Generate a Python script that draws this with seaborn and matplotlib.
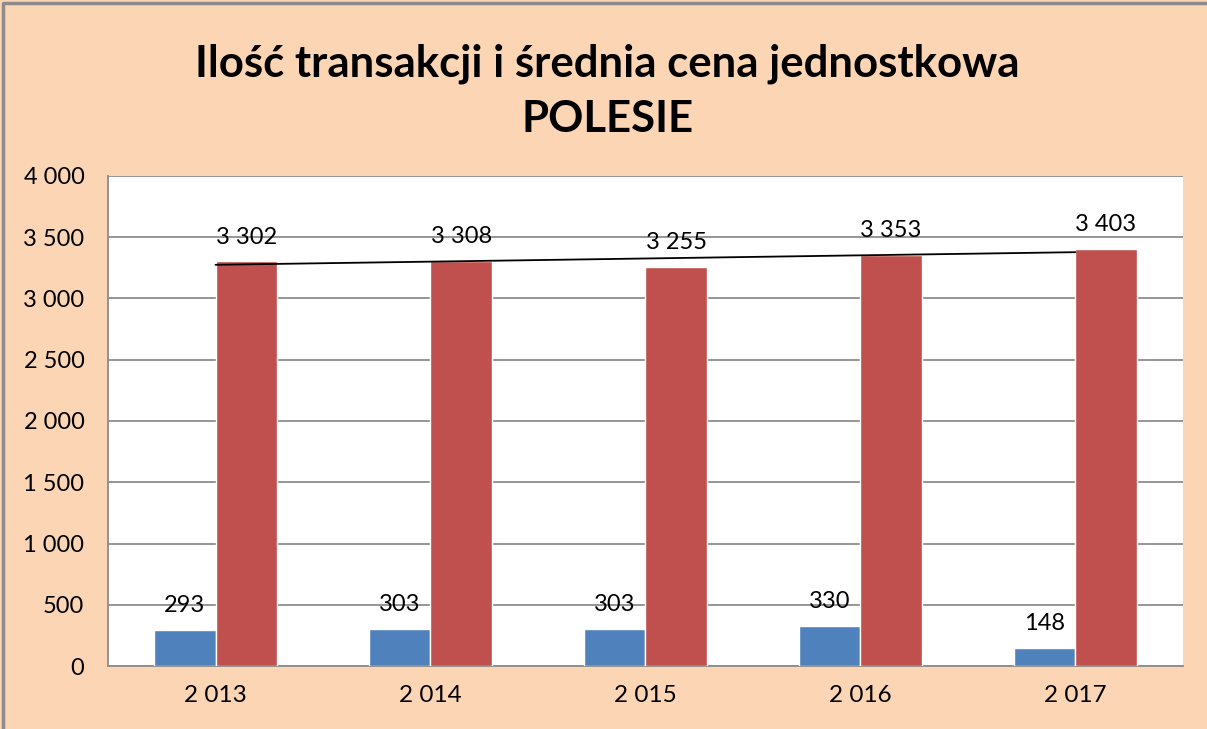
import matplotlib
matplotlib.use("Agg")
import matplotlib.pyplot as plt
import seaborn as sns
import pandas as pd
from matplotlib.lines import Line2D

# dane
lata = [2013, 2014, 2015, 2016, 2017]
ilosc_transakcji = [293, 303, 303, 330, 148]
srednia_cena = [3302, 3308, 3255, 3353, 3403]
# linia trendu (odczytana: początek i koniec)
trend_lata = [2013, 2017]
trend_cena = [3275, 3378]

def fmt(v):
    return f"{v:,}".replace(",", " ")

etykiety_lat = [fmt(r) for r in lata]

df = pd.DataFrame({
    "rok": etykiety_lat * 2,
    "wartosc": ilosc_transakcji + srednia_cena,
    "seria": ["ilosc"] * len(lata) + ["cena"] * len(lata),
})

sns.set_style("white")
plt.rcParams["font.family"] = ["Lato", "DejaVu Sans"]
plt.rcParams["text.color"] = "black"
plt.rcParams["xtick.labelcolor"] = "black"
plt.rcParams["ytick.labelcolor"] = "black"

tlo = "#FCD5B5"
fig = plt.figure(figsize=(12.07, 7.29), dpi=100, facecolor=tlo)
# ramka (góra i lewa strona)
fig.lines.append(Line2D([0.0025, 0.0025, 1.0], [0.0, 0.996, 0.996], transform=fig.transFigure,
                        color="#8C8C8C", linewidth=2.5))
ax = fig.add_axes([0.0895, 0.0864, 0.8905, 0.6722])
ax.set_facecolor("white")

sns.barplot(data=df, x="rok", y="wartosc", hue="seria", palette=["#4F81BD", "#C0504D"],
            width=0.57, saturation=1, legend=False, ax=ax, zorder=3)

# linia trendu
pozycje = [lata.index(r) for r in trend_lata]
ax.plot(pozycje, trend_cena, color="black", linewidth=1.3, zorder=4)

# etykiety wartości
for kontener in ax.containers:
    ax.bar_label(kontener, labels=[fmt(int(p.get_height())) for p in kontener],
                 padding=10, fontsize=17, color="black", zorder=5)

ax.set_ylim(0, 4000)
ax.set_xlim(-0.5, len(lata) - 0.5)
ax.set_yticks(range(0, 4001, 500))
ax.set_yticklabels([fmt(v) for v in range(0, 4001, 500)], fontsize=17)
ax.set_xticks(range(len(lata)))
ax.set_xticklabels(etykiety_lat, fontsize=17.5)
ax.set_xticks([i - 0.5 for i in range(len(lata) + 1)], minor=True)
ax.tick_params(axis="x", which="major", length=0, pad=14)
ax.tick_params(axis="x", which="minor", length=8, color="#8C8C8C", width=1.2)
ax.tick_params(axis="y", length=8, color="#8C8C8C", width=1.2, pad=9)
ax.set_xlabel("")
ax.set_ylabel("")
ax.yaxis.grid(True, color="#8C8C8C", linewidth=1.3, zorder=0)
ax.set_axisbelow(True)
for s in ["top", "right"]:
    ax.spines[s].set_visible(False)
for s in ["left", "bottom"]:
    ax.spines[s].set_color("#8C8C8C")
    ax.spines[s].set_linewidth(1.3)

fig.text(0.503, 0.875, "Ilość transakcji i średnia cena jednostkowa\nPOLESIE",
         ha="center", va="center", fontsize=31.5, fontweight="bold", linespacing=1.45,
         color="black")

fig.savefig("out.png", dpi=100, facecolor=tlo)
